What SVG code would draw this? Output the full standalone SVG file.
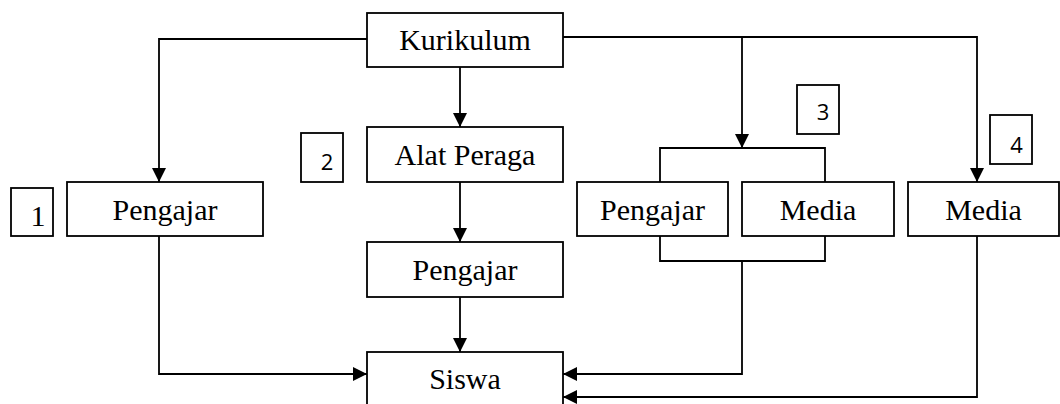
<svg xmlns="http://www.w3.org/2000/svg" width="1060" height="404" viewBox="0 0 1060 404">
<style>
.box{fill:#fff;stroke:#000;stroke-width:1.8}
.lbl{font-family:"Liberation Serif","Times New Roman",serif;font-size:30px;fill:#000;text-anchor:middle}
.num{font-family:"Open Sans","Liberation Sans",sans-serif;font-size:22px;fill:#000;text-anchor:middle}
.con{fill:none;stroke:#000;stroke-width:1.8}
.arr{marker-end:url(#ah)}
</style>
<defs>
<marker id="ah" markerUnits="userSpaceOnUse" markerWidth="14" markerHeight="14" refX="14" refY="7" orient="auto">
<path d="M0,0 L14,7 L0,14 z" fill="#000"/>
</marker>
</defs>
<rect width="1060" height="404" fill="#fff"/>
<g id="connectors">
<path class="con arr" d="M367,39 H159 V182"/>
<path class="con arr" d="M460,67 V127"/>
<path class="con arr" d="M460,182 V242"/>
<path class="con arr" d="M460,297 V352"/>
<path class="con arr" d="M563,37 H977 V182"/>
<path class="con arr" d="M742,37 V148"/>
<path class="con" d="M660,182 V148 H825 V182"/>
<path class="con" d="M660,236 V261 H825 V236"/>
<path class="con arr" d="M742,261 V374 H563"/>
<path class="con arr" d="M159,236 V374 H367"/>
<path class="con arr" d="M977,236 V397 H563"/>
</g>
<g id="kurikulum"><rect class="box" x="367" y="13" width="196" height="54"/><text class="lbl" x="465" y="50">Kurikulum</text></g>
<g id="alat-peraga"><rect class="box" x="367" y="127" width="196" height="55"/><text class="lbl" x="465" y="165">Alat Peraga</text></g>
<g id="pengajar2"><rect class="box" x="367" y="242" width="196" height="55"/><text class="lbl" x="465" y="280">Pengajar</text></g>
<g id="siswa"><rect class="box" x="367" y="352" width="196" height="70"/><text class="lbl" x="465" y="389">Siswa</text></g>
<g id="pengajar1"><rect class="box" x="67" y="182" width="196" height="54"/><text class="lbl" x="165" y="220">Pengajar</text></g>
<g id="pengajar3"><rect class="box" x="577" y="182" width="151" height="54"/><text class="lbl" x="652.5" y="220">Pengajar</text></g>
<g id="media3"><rect class="box" x="742" y="182" width="152" height="54"/><text class="lbl" x="818" y="220">Media</text></g>
<g id="media4"><rect class="box" x="908" y="182" width="151" height="54"/><text class="lbl" x="983.5" y="220">Media</text></g>
<g id="label1"><rect class="box" x="11" y="188" width="42" height="48"/><text class="lbl" x="38" y="226">1</text></g>
<g id="label2"><rect class="box" x="301" y="133" width="42" height="49"/><text class="num" x="327" y="170">2</text></g>
<g id="label3"><rect class="box" x="797" y="85" width="42" height="49"/><text class="num" x="823" y="120">3</text></g>
<g id="label4"><rect class="box" x="990" y="115" width="42" height="49"/><text class="num" x="1016.5" y="153">4</text></g>
</svg>
